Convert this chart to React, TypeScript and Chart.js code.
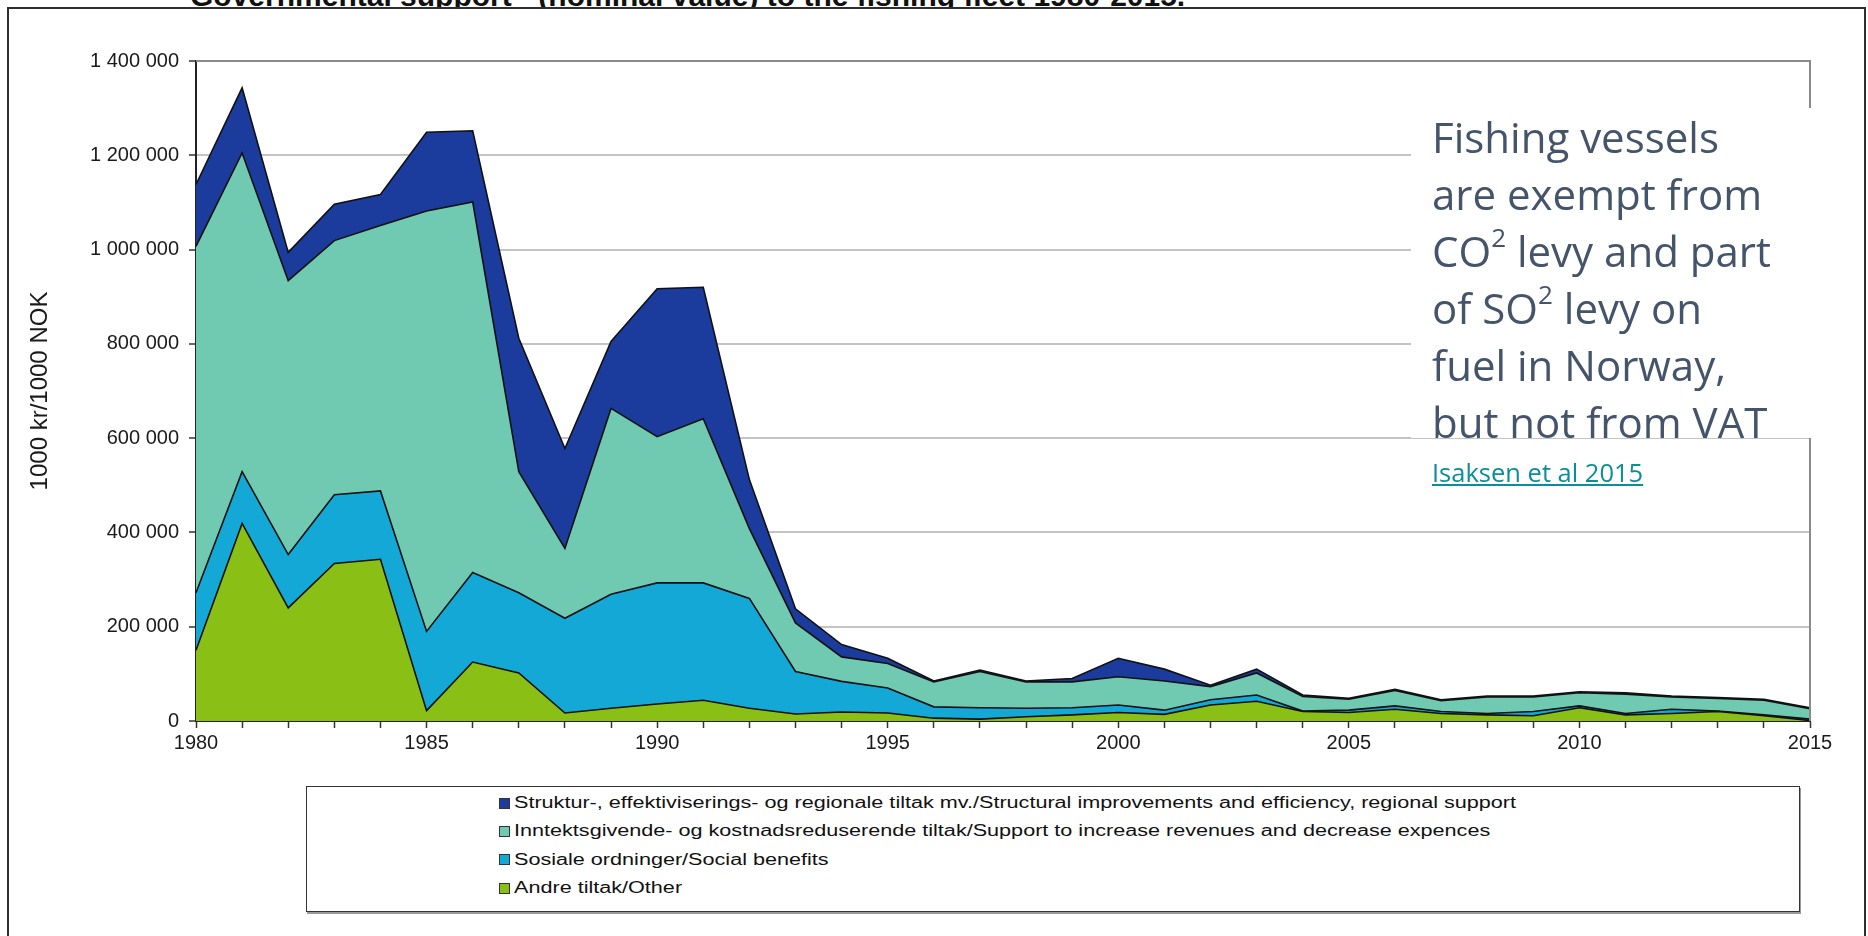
import React, { useEffect, useRef } from 'react';
import { Chart, registerables } from 'chart.js';

Chart.register(...registerables);

// ---- data (1000 kr / 1000 NOK) ----
const years = [
  '1980', '1981', '1982', '1983', '1984', '1985', '1986', '1987', '1988', '1989',
  '1990', '1991', '1992', '1993', '1994', '1995', '1996', '1997', '1998', '1999',
  '2000', '2001', '2002', '2003', '2004', '2005', '2006', '2007', '2008', '2009',
  '2010', '2011', '2012', '2013', '2014', '2015',
];
const xLabelYears = ['1980', '1985', '1990', '1995', '2000', '2005', '2010', '2015'];

// Andre tiltak/Other
const otherValues = [
  150000, 419000, 240000, 334000, 343000, 22000, 125000, 102000, 17000, 27000,
  36000, 44000, 27000, 15000, 19000, 17000, 6000, 4000, 9000, 13000,
  18000, 14000, 34000, 42000, 20000, 18000, 25000, 16000, 13000, 11000,
  28000, 13000, 16000, 20000, 11000, 1000,
];
// Sosiale ordninger/Social benefits
const socialValues = [
  122000, 110000, 113000, 146000, 145000, 168000, 190000, 170000, 201000, 242000,
  257000, 249000, 233000, 90000, 65000, 53000, 24000, 24000, 18000, 15000,
  16000, 9000, 11000, 13000, 1000, 5000, 7000, 4000, 3000, 9000,
  4000, 3000, 9000, 1000, 2000, 3000,
];
// Inntektsgivende- og kostnadsreduserende tiltak
const revenueValues = [
  735000, 676000, 581000, 539000, 563000, 892000, 786000, 257000, 148000, 394000,
  310000, 348000, 148000, 103000, 52000, 52000, 53000, 77000, 56000, 55000,
  60000, 62000, 28000, 47000, 31000, 23000, 33000, 23000, 35000, 31000,
  28000, 41000, 26000, 27000, 31000, 22000,
];
// Struktur-, effektiviserings- og regionale tiltak
const structuralValues = [
  131000, 138000, 60000, 77000, 66000, 167000, 151000, 283000, 212000, 142000,
  314000, 279000, 104000, 30000, 26000, 11000, 2000, 3000, 2000, 7000,
  39000, 25000, 3000, 8000, 3000, 2000, 2000, 2000, 2000, 2000,
  2000, 3000, 2000, 2000, 2000, 2000,
];

const seriesLabels = [
  'Struktur-, effektiviserings- og regionale tiltak mv./Structural improvements and efficiency, regional support',
  'Inntektsgivende- og kostnadsreduserende tiltak/Support to increase revenues and decrease expences',
  'Sosiale ordninger/Social benefits',
  'Andre tiltak/Other',
];
const seriesColors = ['#1B3C9C', '#70CAB2', '#14A8D7', '#8ABF16'];

const yMax = 1400000;
const yStep = 200000;

const titleText = 'Governmental support - (nominal value) to the fishing fleet 1980-2015.';
const yAxisTitle = '1000 kr/1000 NOK';

const fmt = (v: number) => String(v).replace(/\B(?=(\d{3})+(?!\d))/g, ' ');

const plotBorder = {
  id: 'plotBorder',
  afterDatasetsDraw(chart: any) {
    const { ctx, chartArea } = chart;
    ctx.save();
    ctx.strokeStyle = '#8a8a8a';
    ctx.lineWidth = 2;
    ctx.beginPath();
    ctx.moveTo(chartArea.left, chartArea.top);
    ctx.lineTo(chartArea.right, chartArea.top);
    ctx.lineTo(chartArea.right, chartArea.bottom);
    ctx.stroke();
    ctx.restore();
  },
};

const FONT = '"Liberation Sans", Arial, sans-serif';

export default function App() {
  const canvasRef = useRef<HTMLCanvasElement | null>(null);

  useEffect(() => {
    if (!canvasRef.current) return;
    const mk = (label: string, data: number[], color: string, fill: any) => ({
      label,
      data,
      backgroundColor: color,
      borderColor: '#111',
      borderWidth: 1.6,
      pointRadius: 0,
      tension: 0,
      fill,
    });
    const chart = new Chart(canvasRef.current, {
      type: 'line',
      data: {
        labels: years,
        datasets: [
          mk(seriesLabels[3], otherValues, seriesColors[3], 'origin'),
          mk(seriesLabels[2], socialValues, seriesColors[2], '-1'),
          mk(seriesLabels[1], revenueValues, seriesColors[1], '-1'),
          mk(seriesLabels[0], structuralValues, seriesColors[0], '-1'),
        ],
      },
      options: {
        animation: false,
        responsive: false,
        devicePixelRatio: 1,
        layout: { padding: { left: 26, top: 61, right: 58, bottom: 19 } },
        plugins: { legend: { display: false }, tooltip: { enabled: false }, title: { display: false } },
        elements: { line: { borderJoinStyle: 'miter' } },
        scales: {
          x: {
            stacked: true,
            offset: false,
            grid: { display: true, drawOnChartArea: false, tickLength: 7, tickColor: '#333', tickWidth: 1.5 },
            border: { color: '#222', width: 2 },
            ticks: {
              autoSkip: false,
              maxRotation: 0,
              padding: 3,
              color: '#1a1a1a',
              font: { family: FONT, size: 20 },
              callback: (_v: any, i: number) => (xLabelYears.includes(years[i]) ? years[i] : ''),
            },
            afterFit: (s: any) => { s.height = 40; },
          },
          y: {
            stacked: true,
            min: 0,
            max: yMax,
            grid: { color: '#c4c4c4', lineWidth: 2, tickLength: 7, tickColor: '#333', tickWidth: 1.5 },
            border: { color: '#222', width: 2 },
            ticks: {
              stepSize: yStep,
              padding: 10,
              color: '#1a1a1a',
              font: { family: FONT, size: 20 },
              callback: (v: any) => fmt(Number(v)),
            },
            title: {
              display: true,
              text: yAxisTitle,
              color: '#1a1a1a',
              font: { family: FONT, size: 24 },
              padding: { top: 0, bottom: 0 },
            },
            afterFit: (s: any) => { s.width = 170; },
          },
        },
      },
      plugins: [plotBorder],
    });
    return () => chart.destroy();
  }, []);

  const legendOrder = [0, 1, 2, 3];

  return (
    <div style={{ position: 'absolute', left: 0, top: 0, width: 1868, height: 936, overflow: 'hidden', background: '#fff' }}>
      <div style={{ position: 'absolute', left: 0, top: 0, width: 1868, height: 8, overflow: 'hidden' }}>
        <div style={{ position: 'absolute', left: 190, top: -21, font: `bold 30px ${FONT}`, color: '#111', whiteSpace: 'nowrap', lineHeight: '34px' }}>
          {titleText}
        </div>
      </div>
      <div style={{ position: 'absolute', left: 7, top: 7, width: 1859, height: 1000, border: '2.5px solid #2e2e2e', boxSizing: 'border-box' }} />
      <canvas ref={canvasRef} width={1868} height={780} style={{ position: 'absolute', left: 0, top: 0, width: 1868, height: 780 }} />
      <div style={{ position: 'absolute', left: 1411, top: 108, width: 401, height: 330, background: '#fff' }} />
      <div style={{ position: 'absolute', left: 1432, top: 108, font: '42px "Open Sans", sans-serif', lineHeight: '57px', color: '#44546A', whiteSpace: 'nowrap' }}>
        Fishing vessels<br />
        are exempt from<br />
        CO<span style={{ fontSize: '0.62em', position: 'relative', top: '-0.75em', lineHeight: 0 }}>2</span> levy and part<br />
        of SO<span style={{ fontSize: '0.62em', position: 'relative', top: '-0.75em', lineHeight: 0 }}>2</span> levy on<br />
        fuel in Norway,<br />
        but not from VAT
      </div>
      <div style={{ position: 'absolute', left: 1432, top: 457, font: '25.5px "Open Sans", sans-serif', lineHeight: '30px', color: '#0B8E96', textDecoration: 'underline', whiteSpace: 'nowrap' }}>
        Isaksen et al 2015
      </div>
      <div style={{ position: 'absolute', left: 306, top: 786, width: 1494, height: 126, border: '1.5px solid #333', boxSizing: 'border-box', boxShadow: '1px 2px 0 #9a9a9a', paddingTop: 2, paddingLeft: 192 }}>
        {legendOrder.map((i) => (
          <div key={i} style={{ height: 28.3, display: 'flex', alignItems: 'center', whiteSpace: 'nowrap' }}>
            <span style={{ display: 'inline-block', width: 9, height: 9, background: seriesColors[i], border: '1px solid #333', marginRight: 4, flex: '0 0 auto' }} />
            <span style={{ display: 'inline-block', font: `16px ${FONT}`, color: '#111', transform: 'scaleX(1.35)', transformOrigin: 'left center' }}>{seriesLabels[i]}</span>
          </div>
        ))}
      </div>
    </div>
  );
}
